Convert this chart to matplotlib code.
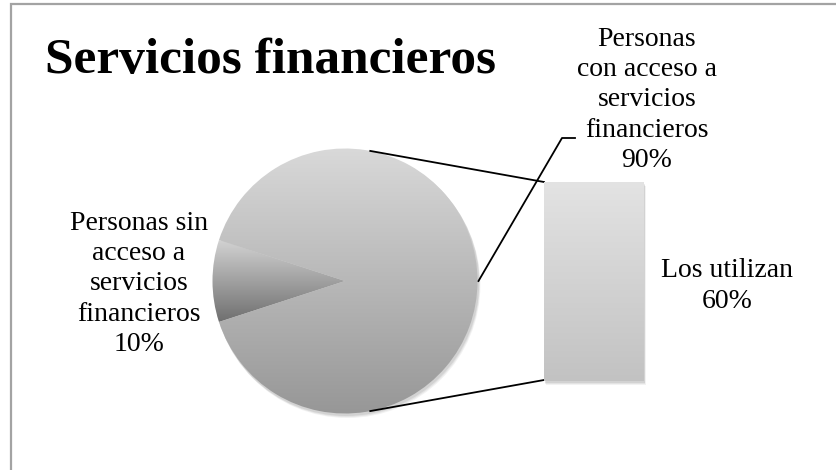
import numpy as np
import matplotlib
matplotlib.use("Agg")
import matplotlib.pyplot as plt
from matplotlib.patches import Rectangle
from matplotlib.lines import Line2D

# ---- data ----
title = "Servicios financieros"
pie_labels = ["Personas sin\nacceso a\nservicios\nfinancieros", "Personas\ncon acceso a\nservicios\nfinancieros"]
pie_values = [10, 90]
bar_labels = ["Los utilizan"]
bar_values = [60]

W, H = 837, 470
fig = plt.figure(figsize=(W / 100, H / 100), dpi=100)
fig.patch.set_facecolor("white")
ax = fig.add_axes([0, 0, 1, 1])

FONT = "Liberation Serif"

# pie geometry (pixel coordinates, y downward)
cx, cy, r = 345, 281, 132.5
start = 180 - pie_values[0] / sum(pie_values) * 360 / 2

# shadow
for k, a in [(4, 0.05), (3, 0.06), (2, 0.07)]:
    sh = plt.Circle((cx + k * 0.6, cy + k), r + 0.5, color="#000000", alpha=a, lw=0, zorder=1)
    ax.add_patch(sh)

wedges, _ = ax.pie(pie_values, center=(cx, cy), radius=r, startangle=start,
                   counterclock=True, frame=True,
                   wedgeprops=dict(facecolor="none", edgecolor="none", linewidth=0))

grad_specs = [("#d2d2d2", "#6f6f6f"), ("#d9d9d9", "#979797")]
for w, (c0, c1) in zip(wedges, grad_specs):
    w.set_zorder(2)
    path = w.get_path()
    verts = path.vertices
    y0, y1 = verts[:, 1].min(), verts[:, 1].max()
    x0, x1 = verts[:, 0].min(), verts[:, 0].max()
    t = np.linspace(0, 1, 256)[:, None]
    a = np.array(matplotlib.colors.to_rgb(c0))
    b = np.array(matplotlib.colors.to_rgb(c1))
    img = (a[None, None, :] * (1 - t[:, :, None]) + b[None, None, :] * t[:, :, None])
    img = np.repeat(img, 2, axis=1)
    im = ax.imshow(img, extent=(x0, x1, y1, y0), origin="upper", aspect="auto",
                   zorder=2, interpolation="bilinear")
    im.set_clip_path(w)

ax.set_xlim(0, W)
ax.set_ylim(H, 0)
ax.set_aspect("auto")
ax.axis("off")

# bar of pie (secondary plot)
bx0, bx1, by0, by1 = 544, 644, 182, 381
bax = fig.add_axes([bx0 / W, 1 - by1 / H, (bx1 - bx0) / W, (by1 - by0) / H])
bax.set_xlim(-0.5, 0.5)
bax.set_ylim(0, sum(bar_values))
bax.axis("off")
# shadow for bar
for k, a in [(4, 0.05), (3, 0.06), (2, 0.07)]:
    ax.add_patch(Rectangle((bx0 + k * 0.5, by0 + k), bx1 - bx0, by1 - by0,
                           facecolor="black", alpha=a, lw=0, zorder=1))
bars = bax.bar([0], bar_values, width=1.0, color="none", edgecolor="none")
t = np.linspace(0, 1, 256)[:, None]
a = np.array(matplotlib.colors.to_rgb("#e3e3e3"))
b = np.array(matplotlib.colors.to_rgb("#c2c2c2"))
img = a[None, None, :] * (1 - t[:, :, None]) + b[None, None, :] * t[:, :, None]
img = np.repeat(img, 2, axis=1)
bim = bax.imshow(img, extent=(-0.5, 0.5, 0, sum(bar_values)), origin="upper",
                 aspect="auto", interpolation="bilinear", zorder=2)
bim.set_clip_path(bars[0])
bax.set_xlim(-0.5, 0.5)
bax.set_ylim(0, sum(bar_values))

# connector lines from pie to bar
ang = np.deg2rad(79)
px = cx + r * np.cos(ang)
ax.add_line(Line2D([px, bx0], [cy - r * np.sin(ang), by0], color="black", lw=1.3, zorder=3))
ax.add_line(Line2D([px, bx0], [cy + r * np.sin(ang), by1 - 1], color="black", lw=1.3, zorder=3))

# leader line for big-slice label
ax.add_line(Line2D([cx + r + 1, 562, 575], [281, 138, 138], color="black", lw=1.3, zorder=3))

# title
ax.text(45, 73, title, fontsize=37, fontweight="bold", family=FONT,
        ha="left", va="baseline", zorder=5)

fs = 20
ls = 1.27
ax.text(139, 284, f"{pie_labels[0]}\n{pie_values[0]}%", fontsize=fs, family=FONT,
        ha="center", va="center", multialignment="center", linespacing=ls, zorder=5)
ax.text(647, 100, f"{pie_labels[1]}\n{pie_values[1]}%", fontsize=fs, family=FONT,
        ha="center", va="center", multialignment="center", linespacing=ls, zorder=5)
ax.text(727, 286, f"{bar_labels[0]}\n{bar_values[0]}%", fontsize=fs, family=FONT,
        ha="center", va="center", multialignment="center", linespacing=ls, zorder=5)

# frame of chart area
ax.add_line(Line2D([10.7, 10.7, W + 5], [H + 5, 4, 4], color="#a3a3a3", lw=1.6, zorder=6,
                   solid_joinstyle="miter"))

fig.savefig("out.png", dpi=100, facecolor="white")
